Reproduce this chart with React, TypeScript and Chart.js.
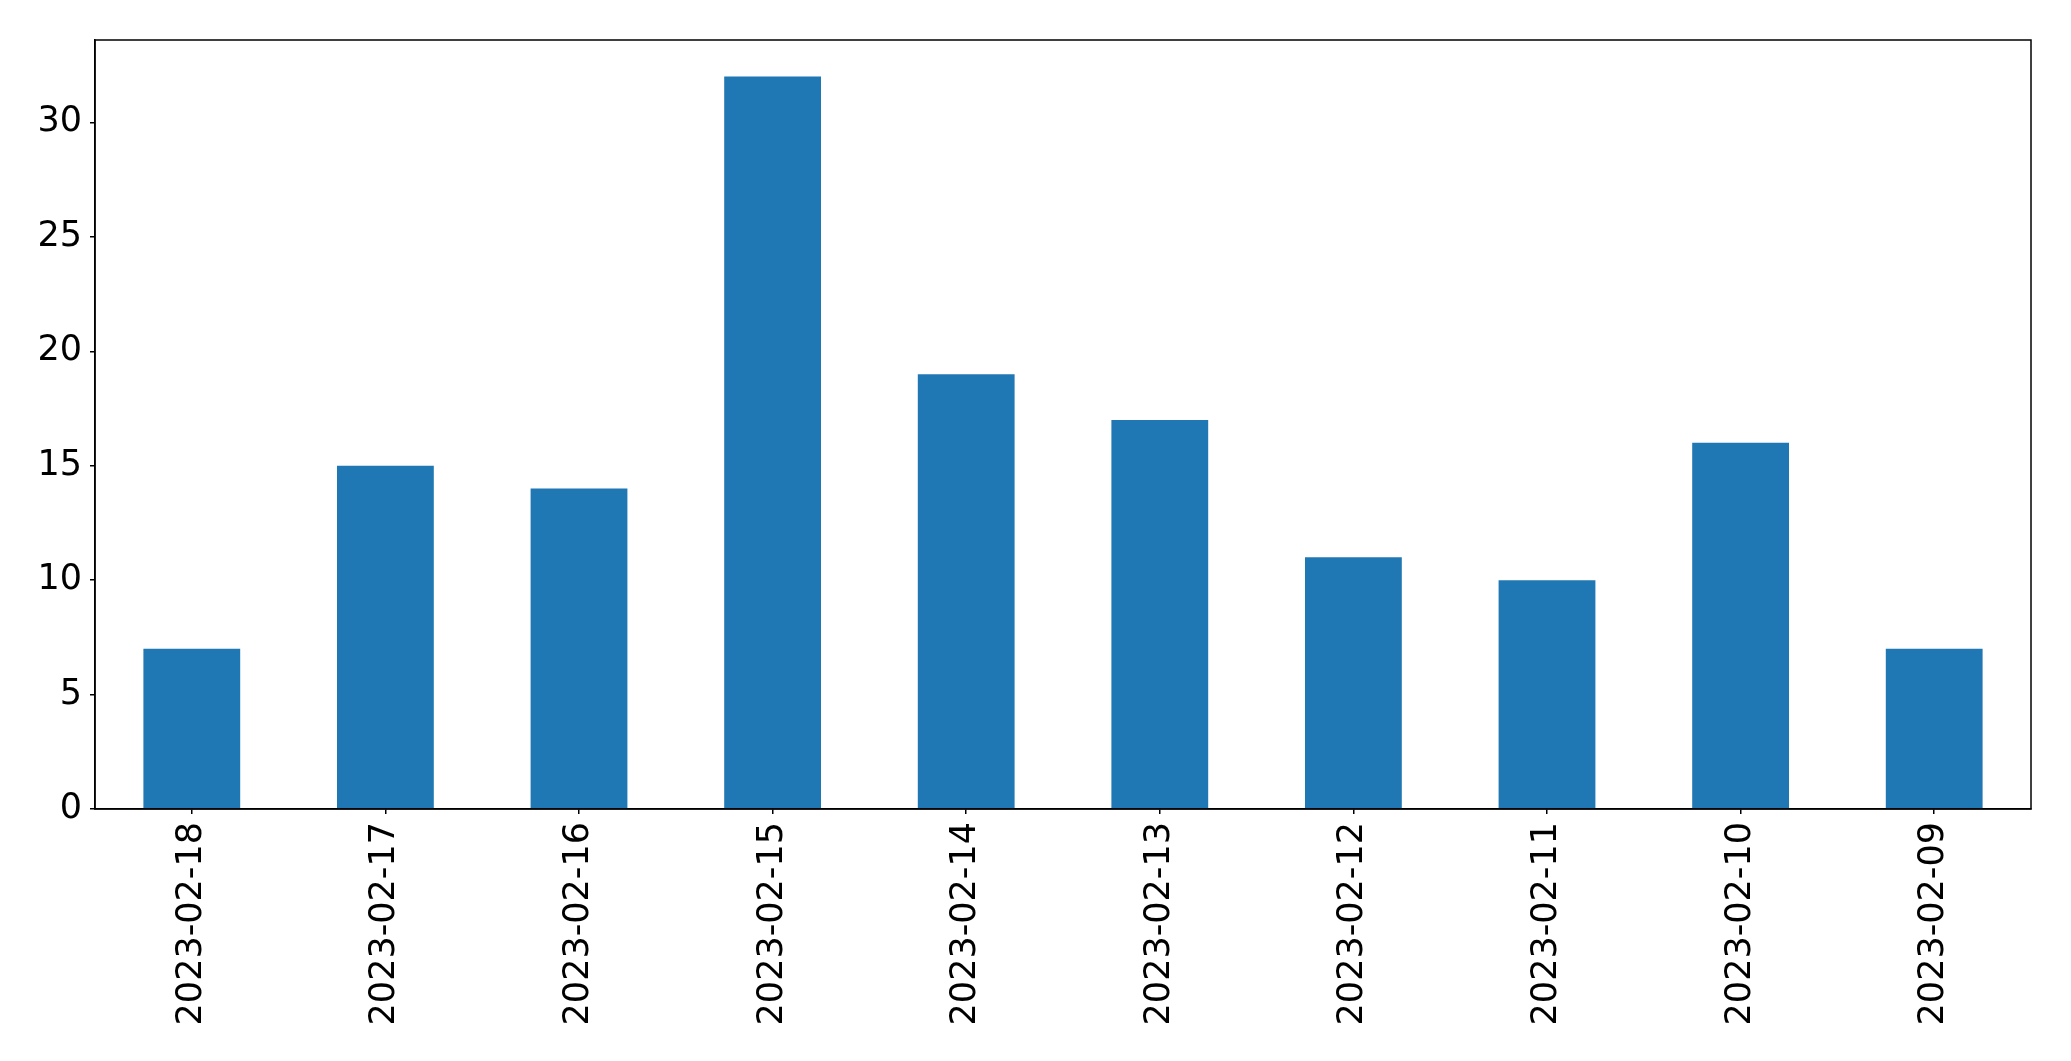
import React, { useEffect, useRef } from "react";
import { Chart, registerables } from "chart.js";

Chart.register(...registerables);

const categories = [
  "2023-02-18",
  "2023-02-17",
  "2023-02-16",
  "2023-02-15",
  "2023-02-14",
  "2023-02-13",
  "2023-02-12",
  "2023-02-11",
  "2023-02-10",
  "2023-02-09",
];
const counts = [7, 15, 14, 32, 19, 17, 11, 10, 16, 7];
const yTicks = [0, 5, 10, 15, 20, 25, 30];
const yMax = 33.6;

const W = 2071;
const H = 1061;
const PLOT_LEFT = 95;
const PLOT_RIGHT = 2031;
const PLOT_TOP = 40;
const PLOT_BOTTOM = 809;

const boxPlugin = {
  id: "boxPlugin",
  afterDraw(chart: any) {
    const { ctx, chartArea } = chart;
    ctx.save();
    ctx.strokeStyle = "#000";
    ctx.lineWidth = 1.5;
    ctx.strokeRect(chartArea.left, chartArea.top, chartArea.right - chartArea.left, chartArea.bottom - chartArea.top);
    ctx.restore();
  },
};

export default function App() {
  const ref = useRef<HTMLCanvasElement | null>(null);
  useEffect(() => {
    if (!ref.current) return;
    const font = { family: "'DejaVu Sans', sans-serif", size: 35 };
    const chart = new Chart(ref.current, {
      type: "bar",
      data: {
        labels: categories,
        datasets: [
          {
            data: counts,
            backgroundColor: "#1f77b4",
            borderWidth: 0,
            categoryPercentage: 1,
            barPercentage: 0.5,
          },
        ],
      },
      options: {
        animation: false,
        responsive: false,
        maintainAspectRatio: false,
        devicePixelRatio: 1,
        layout: { padding: { left: 0, top: PLOT_TOP, right: W - PLOT_RIGHT, bottom: 0 } },
        plugins: { legend: { display: false }, tooltip: { enabled: false } },
        scales: {
          x: {
            type: "category",
            offset: true,
            grid: { display: true, offset: false, drawOnChartArea: false, drawTicks: true, tickLength: 5, color: "#000", lineWidth: 1.5 },
            border: { display: true, color: "#000", width: 1.5 },
            ticks: { color: "#000", font, minRotation: 90, maxRotation: 90, autoSkip: false, padding: 8 },
            afterFit(scale: any) {
              scale.height = H - PLOT_BOTTOM;
            },
          },
          y: {
            type: "linear",
            min: 0,
            max: yMax,
            grid: { display: true, drawOnChartArea: false, drawTicks: true, tickLength: 5, color: "#000", lineWidth: 1.5 },
            border: { display: true, color: "#000", width: 1.5 },
            ticks: { color: "#000", font, padding: 8 },
            afterBuildTicks(scale: any) {
              scale.ticks = yTicks.map((v) => ({ value: v }));
            },
            afterFit(scale: any) {
              scale.width = PLOT_LEFT;
            },
          },
        },
      },
      plugins: [boxPlugin],
    });
    return () => chart.destroy();
  }, []);
  return (
    <div style={{ position: "fixed", left: 0, top: 0, width: W, height: H, background: "#fff" }}>
      <canvas ref={ref} width={W} height={H} style={{ width: W, height: H, display: "block" }} />
    </div>
  );
}
